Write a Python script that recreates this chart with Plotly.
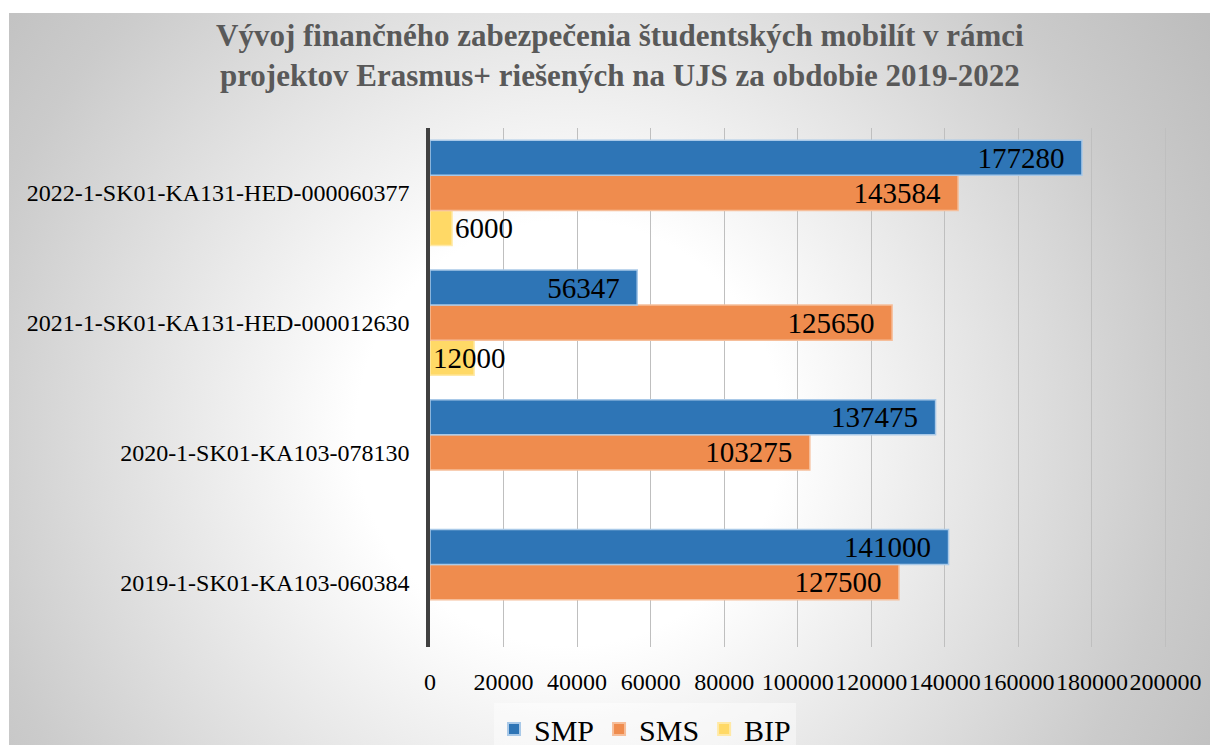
import base64
import plotly.graph_objects as go

# ---- data ----
categories = [
    "2019-1-SK01-KA103-060384",
    "2020-1-SK01-KA103-078130",
    "2021-1-SK01-KA131-HED-000012630",
    "2022-1-SK01-KA131-HED-000060377",
]
smp = [141000, 137475, 56347, 177280]
sms = [127500, 103275, 125650, 143584]
bip = [None, None, 12000, 6000]
x_ticks = [0, 20000, 40000, 60000, 80000, 100000, 120000, 140000, 160000, 180000, 200000]
title_text = ("Vývoj finančného zabezpečenia študentských mobilít v rámci<br>"
              "projektov Erasmus+ riešených na UJS za obdobie 2019-2022")

# ---- geometry (page pixels; the page body has an 8px margin) ----
OFF = 8
W, H = 1218 - OFF, 745 - OFF
XMAX = 200400
L = 430 - OFF
T = 128 - OFF
PB = 647 - OFF           # plot bottom in figure px
B = H - PB
PW = round(736 * XMAX / 200000)
R = W - L - PW
PH = PB - T

def px_x(xpage):
    return (xpage - OFF - L) / PW

def px_y(ypage):
    return (PB - (ypage - OFF)) / PH

FONT = "Liberation Serif"
NB = "\u00a0\u00a0"

# radial gradient background as svg
svg = """<svg xmlns='http://www.w3.org/2000/svg' width='1209' height='732' viewBox='0 0 1209 732' preserveAspectRatio='none'>
<defs><radialGradient id='g' gradientUnits='userSpaceOnUse' cx='560' cy='420' r='760'>
<stop offset='0' stop-color='#ffffff'/><stop offset='0.28' stop-color='#ffffff'/>
<stop offset='0.8' stop-color='#cbcbcb'/><stop offset='1' stop-color='#bdbdbd'/>
</radialGradient></defs>
<rect x='0' y='0' width='1209' height='732' fill='url(#g)'/></svg>"""
svg_uri = "data:image/svg+xml;base64," + base64.b64encode(svg.encode()).decode()

fig = go.Figure()

common = dict(orientation="h", textangle=0, constraintext="none",
              insidetextanchor="end", cliponaxis=False,
              textfont=dict(family=FONT, size=29, color="black"))

fig.add_trace(go.Bar(
    name="BIP", y=categories, x=bip, legendrank=3,
    marker=dict(color="#FFD966", line=dict(color="#FFE9A6", width=1.5)),
    text=[("" if v is None else str(v)) for v in bip],
    textposition=["none", "none", "inside", "outside"],
    **{**common, "insidetextanchor": "start"},
))
fig.add_trace(go.Bar(
    name="SMS", y=categories, x=sms, legendrank=2,
    marker=dict(color="#EF8C4E", line=dict(color="#F6BE9A", width=1.5)),
    text=[str(v) + NB for v in sms], textposition="inside", **common,
))
fig.add_trace(go.Bar(
    name="SMP", y=categories, x=smp, legendrank=1,
    marker=dict(color="#2E75B6", line=dict(color="#A9C9E8", width=1.5)),
    text=[str(v) + NB for v in smp], textposition="inside", **common,
))

fig.update_layout(
    width=W, height=H,
    margin=dict(l=L, r=R, t=T, b=B, pad=0, autoexpand=False),
    paper_bgcolor="white",
    plot_bgcolor="rgba(0,0,0,0)",
    barmode="group", bargap=0.19, bargroupgap=0,
    font=dict(family=FONT, size=24, color="black"),
    showlegend=True,
    legend=dict(orientation="h", x=px_x(645), xanchor="center",
                y=px_y(703), yanchor="top",
                bgcolor="rgba(255,255,255,0.45)",
                font=dict(family=FONT, size=30, color="black"),
                itemsizing="constant", traceorder="normal"),
    images=[dict(source=svg_uri, xref="paper", yref="paper",
                 x=px_x(9), y=px_y(13), sizex=(1218 - 9) / PW, sizey=(745 - 13) / PH,
                 xanchor="left", yanchor="top", sizing="stretch", layer="below")],
    annotations=[dict(text=title_text, xref="paper", yref="paper",
                      x=px_x(620), y=px_y(55), xanchor="center", yanchor="middle",
                      showarrow=False, align="center",
                      font=dict(family=FONT, size=31, color="#595959", weight="bold"))],
)

fig.update_xaxes(range=[0, XMAX], tickvals=x_ticks,
                 ticktext=[str(v) for v in x_ticks], tickangle=0,
                 showgrid=True, gridcolor="#BFBFBF", gridwidth=1.2,
                 zeroline=False, showline=False, ticks="",
                 ticklabelstandoff=18, automargin=False,
                 tickfont=dict(family=FONT, size=24, color="black"))
fig.update_yaxes(showgrid=False, showline=True, linecolor="#404040", linewidth=3.5,
                 ticks="", ticklabelstandoff=12, zeroline=False, automargin=False,
                 tickfont=dict(family=FONT, size=24, color="black"))

fig.write_html("out.html")
